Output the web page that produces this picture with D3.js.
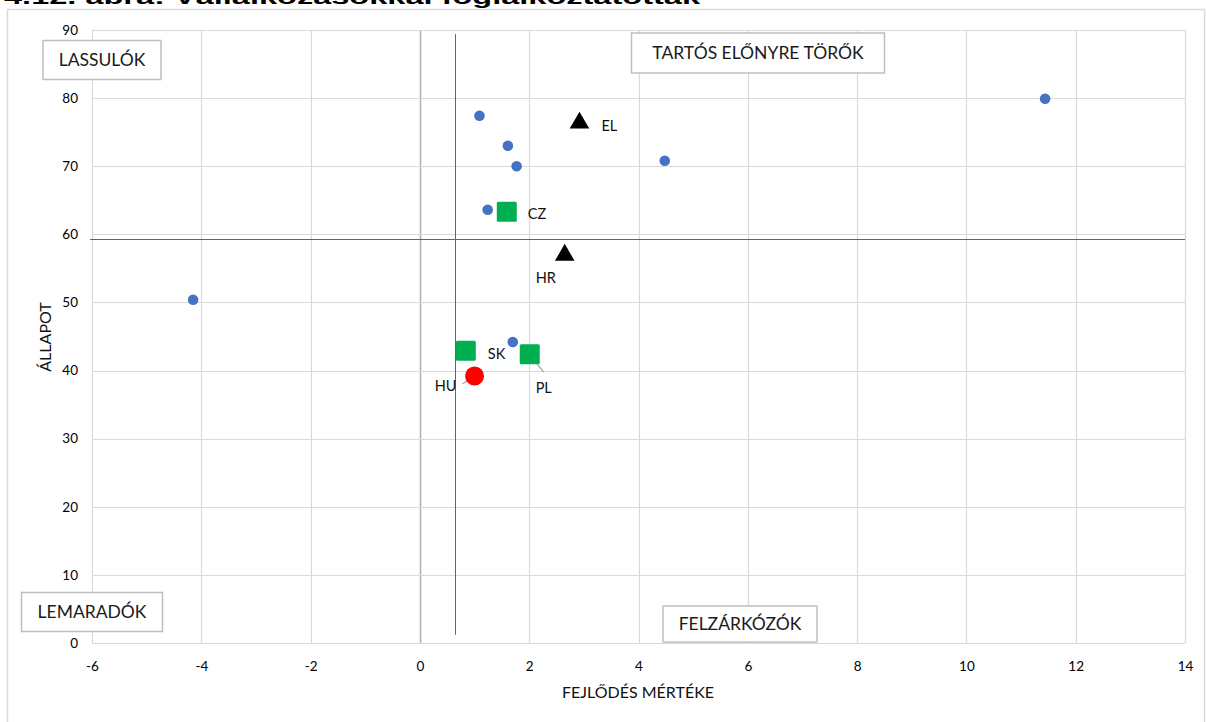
<!DOCTYPE html>
<html lang="hu">
<head>
<meta charset="UTF-8">
<script src="https://d3js.org/d3.v7.min.js"></script>
<style>
  body { margin: 0; background: #fff; }
  svg { display: block; font-family: Lato, "Open Sans", sans-serif; }
</style>
</head>
<body>
<script>
// data
const xTicks = [-6, -4, -2, 0, 2, 4, 6, 8, 10, 12, 14];
const yTicks = [0, 10, 20, 30, 40, 50, 60, 70, 80, 90];

// unlabelled countries (blue dots)
const dotX = [1.09, 1.61, 1.77, 4.48, 11.44, 1.24, -4.15, 1.70];
const dotY = [77.4, 73.0, 70.0, 70.8, 79.9, 63.6, 50.4, 44.2];

// triangles
const triNames = ["EL", "HR"];
const triX = [2.92, 2.65];
const triY = [76.5, 57.1];

// squares
const sqNames = ["CZ", "SK", "PL"];
const sqX = [1.59, 0.84, 2.01];
const sqY = [63.3, 42.9, 42.4];

// Hungary
const huName = ["HU"];
const huX = [1.0];
const huY = [39.2];

// average lines
const avgX = 0.65;
const avgY = 59.3;

const quadrants = ["LASSULÓK", "TARTÓS ELŐNYRE TÖRŐK", "LEMARADÓK", "FELZÁRKÓZÓK"];

const titleText = "4.12. ábra: Vállalkozásokkal foglalkoztatottak";

// layout
const w = 1206, h = 722;
const plotL = 92, plotR = 1185, plotT = 30, plotB = 643;

const svg = d3.select("body").append("svg")
  .attr("width", w).attr("height", h);

// title, cut at the top edge like the original
svg.append("text")
  .attr("x", 4).attr("y", 4)
  .attr("textLength", 696)
  .attr("lengthAdjust", "spacingAndGlyphs")
  .style("font-family", "'Liberation Sans', Arial, sans-serif")
  .style("font-weight", "bold")
  .style("font-size", "21px")
  .attr("fill", "#000")
  .text(titleText);

// chart frame
svg.append("rect")
  .attr("x", 7.5).attr("y", 9.5)
  .attr("width", 1197).attr("height", 730)
  .attr("fill", "none").attr("stroke", "#d9d9d9").attr("stroke-width", 1.5);

const x = d3.scaleLinear().domain([-6, 14]).range([plotL, plotR]);
const y = d3.scaleLinear().domain([0, 90]).range([plotB, plotT]);

// gridlines
const grid = svg.append("g");
grid.selectAll("line.v").data(xTicks).join("line")
  .attr("class", "v")
  .attr("x1", d => Math.round(x(d)) + 0.5).attr("x2", d => Math.round(x(d)) + 0.5)
  .attr("y1", plotT).attr("y2", plotB)
  .attr("stroke", d => d === 0 ? "#b4b4b4" : "#d9d9d9")
  .attr("stroke-width", d => d === 0 ? 1.6 : 1.2);
grid.selectAll("line.h").data(yTicks).join("line")
  .attr("class", "h")
  .attr("y1", d => Math.round(y(d)) + 0.5).attr("y2", d => Math.round(y(d)) + 0.5)
  .attr("x1", plotL).attr("x2", plotR)
  .attr("stroke", "#d9d9d9")
  .attr("stroke-width", 1.2);

// axes (labels only, Excel style, plain hyphen for negatives)
const xAxis = d3.axisBottom(x).tickValues(xTicks).tickSize(0).tickPadding(18)
  .tickFormat(d => String(d));
svg.append("g")
  .attr("transform", `translate(0,${plotB})`)
  .call(xAxis)
  .call(g => g.select(".domain").remove())
  .selectAll("text")
  .style("font-family", "Lato, sans-serif")
  .style("font-size", "13.5px")
  .attr("fill", "#000");

const yAxis = d3.axisLeft(y).tickValues(yTicks).tickSize(0).tickPadding(14)
  .tickFormat(d => String(d));
svg.append("g")
  .attr("transform", `translate(${plotL},0)`)
  .call(yAxis)
  .call(g => g.select(".domain").remove())
  .selectAll("text")
  .style("font-family", "Lato, sans-serif")
  .style("font-size", "13.5px")
  .attr("fill", "#000");

// axis titles
svg.append("text")
  .attr("x", 638).attr("y", 698)
  .attr("text-anchor", "middle")
  .style("font-size", "16px").attr("fill", "#111")
  .text("FEJLŐDÉS MÉRTÉKE");

svg.append("text")
  .attr("transform", "translate(51,337) rotate(-90)")
  .attr("text-anchor", "middle")
  .style("font-size", "16px").attr("fill", "#111")
  .text("ÁLLAPOT");

// average lines
svg.append("line")
  .attr("x1", Math.round(x(avgX)) + 0.5).attr("x2", Math.round(x(avgX)) + 0.5)
  .attr("y1", y(89.4)).attr("y2", y(1.2))
  .attr("stroke", "#4f6796").attr("stroke-width", 1);
svg.append("line")
  .attr("x1", plotL - 2).attr("x2", plotR)
  .attr("y1", Math.round(y(avgY)) + 0.5).attr("y2", Math.round(y(avgY)) + 0.5)
  .attr("stroke", "#4f6796").attr("stroke-width", 1);

// quadrant label boxes
const boxes = [
  { cx: 102, cy: 60, w: 118, h: 39 },
  { cx: 758, cy: 53, w: 253, h: 40 },
  { cx: 92, cy: 612, w: 141, h: 39 },
  { cx: 740, cy: 624, w: 154, h: 36 }
];
const qb = svg.append("g").selectAll("g").data(quadrants).join("g")
  .attr("transform", (d, i) => `translate(${boxes[i].cx},${boxes[i].cy})`);
qb.append("rect")
  .attr("x", (d, i) => -boxes[i].w / 2).attr("y", (d, i) => -boxes[i].h / 2)
  .attr("width", (d, i) => boxes[i].w).attr("height", (d, i) => boxes[i].h)
  .attr("fill", "#fff").attr("stroke", "#bfbfbf").attr("stroke-width", 1.5);
qb.append("text")
  .attr("text-anchor", "middle").attr("dy", "0.36em")
  .style("font-size", "17.5px").attr("fill", "#1a1a1a")
  .text(d => d);

// blue dots
svg.append("g").selectAll("circle").data(dotX).join("circle")
  .attr("cx", d => x(d))
  .attr("cy", (d, i) => y(dotY[i]))
  .attr("r", 5.3)
  .attr("fill", "#4472c4");

// leader lines (HU, PL)
svg.append("line")
  .attr("x1", x(huX[0]) - 12).attr("y1", y(huY[0]) + 8)
  .attr("x2", x(huX[0]) - 2).attr("y2", y(huY[0]) + 1)
  .attr("stroke", "#a6a6a6").attr("stroke-width", 1.2);
const plI = sqNames.indexOf("PL");
svg.append("line")
  .attr("x1", x(sqX[plI]) + 1).attr("y1", y(sqY[plI]) + 2)
  .attr("x2", x(sqX[plI]) + 14).attr("y2", y(sqY[plI]) + 18)
  .attr("stroke", "#a6a6a6").attr("stroke-width", 1.2);

// green squares
svg.append("g").selectAll("rect").data(sqX).join("rect")
  .attr("x", d => x(d) - 10)
  .attr("y", (d, i) => y(sqY[i]) - 10)
  .attr("width", 20).attr("height", 20)
  .attr("rx", 1.5)
  .attr("fill", "#00b050");

// triangles
svg.append("g").selectAll("path").data(triX).join("path")
  .attr("d", d3.symbol().type(d3.symbolTriangle).size(165))
  .attr("transform", (d, i) => `translate(${x(d)},${y(triY[i]) + 1})`)
  .attr("fill", "#000");

// Hungary
svg.append("circle")
  .attr("cx", x(huX[0])).attr("cy", y(huY[0]))
  .attr("r", 9.5)
  .attr("fill", "#ff0000");

// point labels
const labelOff = {
  EL: [22, 4, "start"], HR: [-19, 24, "middle"],
  CZ: [21, 2, "start"], SK: [22, 3, "start"], PL: [14, 34, "middle"],
  HU: [-18, 10, "end"]
};
const labels = [];
triNames.forEach((n, i) => labels.push({ n, px: x(triX[i]), py: y(triY[i]) }));
sqNames.forEach((n, i) => labels.push({ n, px: x(sqX[i]), py: y(sqY[i]) }));
huName.forEach((n, i) => labels.push({ n, px: x(huX[i]), py: y(huY[i]) }));

svg.append("g").selectAll("text").data(labels).join("text")
  .attr("x", d => d.px + labelOff[d.n][0])
  .attr("y", d => d.py + labelOff[d.n][1])
  .attr("dy", "0.36em")
  .attr("text-anchor", d => labelOff[d.n][2])
  .style("font-size", "14.5px").attr("fill", "#111")
  .text(d => d.n);
</script>
</body>
</html>
